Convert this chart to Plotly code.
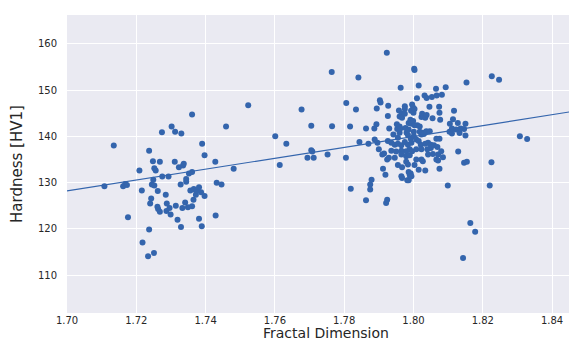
import numpy as np
import plotly.graph_objects as go

fractal_dim = [
    1.7108, 1.7135, 1.7162, 1.7168, 1.7173, 1.7176, 1.7209, 1.7216, 1.7218, 1.7234,
    1.7237, 1.7237, 1.7240, 1.7243, 1.7245, 1.7248, 1.7249, 1.7251, 1.7252, 1.7252,
    1.7256, 1.7261, 1.7262, 1.7263, 1.7268, 1.7268, 1.7274, 1.7275, 1.7285, 1.7287,
    1.7288, 1.7293, 1.7296, 1.7299, 1.7302, 1.7311, 1.7312, 1.7314, 1.7319, 1.7323,
    1.7328, 1.7329, 1.7330, 1.7333, 1.7335, 1.7337, 1.7341, 1.7344, 1.7344, 1.7349,
    1.7352, 1.7356, 1.7361, 1.7361, 1.7361, 1.7365, 1.7366, 1.7372, 1.7373, 1.7381,
    1.7381, 1.7387, 1.7389, 1.7390, 1.7397, 1.7397, 1.7428, 1.7429, 1.7432, 1.7446,
    1.7459, 1.7481, 1.7523,
    1.7601, 1.7614, 1.7633, 1.7677, 1.7694, 1.7705, 1.7705, 1.7708, 1.7712, 1.7752,
    1.7764, 1.7765, 1.7805, 1.7806, 1.7817, 1.7819, 1.7834, 1.7841, 1.7844, 1.7863,
    1.7863, 1.7870, 1.7875, 1.7875, 1.7879, 1.7887, 1.7888, 1.7893, 1.7894, 1.7896,
    1.7900, 1.7903, 1.7905,
    1.7910, 1.7912, 1.7915, 1.7919, 1.7921, 1.7923, 1.7924, 1.7924, 1.7926, 1.7926,
    1.7927, 1.7929, 1.7930, 1.7936, 1.7936, 1.7942, 1.7946, 1.7946, 1.7950, 1.7952,
    1.7953, 1.7955, 1.7955, 1.7955, 1.7958, 1.7960, 1.7960, 1.7960, 1.7962, 1.7963,
    1.7965, 1.7965, 1.7965, 1.7965, 1.7966, 1.7967, 1.7967, 1.7967, 1.7975, 1.7975,
    1.7975, 1.7975, 1.7977, 1.7979, 1.7979, 1.7979, 1.7980, 1.7982, 1.7984, 1.7984,
    1.7984, 1.7986, 1.7986, 1.7986, 1.7986, 1.7989, 1.7989, 1.7989, 1.7991, 1.7991,
    1.7992, 1.7992, 1.7993, 1.7994, 1.7994, 1.7994, 1.7996, 1.7996, 1.7999, 1.7999,
    1.8000, 1.8001, 1.8001, 1.8002, 1.8003, 1.8003, 1.8003, 1.8003, 1.8008, 1.8008,
    1.8008, 1.8010, 1.8011, 1.8015, 1.8015, 1.8015, 1.8018, 1.8018, 1.8021, 1.8023,
    1.8023, 1.8023, 1.8023, 1.8025, 1.8027, 1.8027, 1.8030, 1.8030, 1.8032, 1.8034,
    1.8034, 1.8034, 1.8037, 1.8038, 1.8038, 1.8040, 1.8042, 1.8042, 1.8046, 1.8047,
    1.8050, 1.8050, 1.8053, 1.8055, 1.8056, 1.8059, 1.8065, 1.8066, 1.8066, 1.8067,
    1.8069, 1.8071, 1.8071, 1.8074, 1.8075, 1.8075, 1.8075, 1.8077, 1.8080, 1.8082,
    1.8085, 1.8093, 1.8099,
    1.8104, 1.8105, 1.8111, 1.8111, 1.8114, 1.8117, 1.8123, 1.8128, 1.8129, 1.8133,
    1.8136, 1.8143, 1.8146, 1.8146, 1.8150, 1.8150, 1.8153, 1.8154, 1.8164, 1.8178,
    1.8220, 1.8225, 1.8226, 1.8247, 1.8307, 1.8328,
]

hardness = [
    129.2, 138.0, 129.2, 129.7, 129.5, 122.5, 132.6, 128.3, 117.1, 114.1,
    136.9, 119.9, 125.5, 126.6, 129.6, 134.6, 130.6, 114.8, 133.1, 129.4,
    132.6, 124.8, 128.2, 124.3, 134.5, 123.7, 140.9, 131.3, 127.4, 123.9,
    125.5, 131.3, 124.5, 123.1, 142.1, 134.5, 141.0, 125.0, 122.0, 133.3,
    129.6, 120.4, 140.6, 124.5, 133.7, 134.1, 125.7, 130.8, 130.2, 124.7,
    132.0, 128.3, 144.7, 132.3, 124.9, 126.3, 128.6, 127.4, 128.2, 129.0,
    122.2, 127.9, 120.6, 138.4, 135.9, 127.1, 134.5, 122.9, 130.0, 129.6,
    142.1, 133.0, 146.7,
    140.0, 133.8, 138.4, 145.8, 135.4, 142.3, 137.0, 136.7, 135.4, 136.1,
    153.9, 142.2, 135.4, 147.2, 142.1, 128.7, 145.8, 152.7, 138.8, 141.7,
    126.2, 138.4, 129.6, 128.5, 130.6, 141.7, 139.3, 142.6, 146.0, 138.6,
    137.2, 147.8, 147.3,
    136.1, 133.0, 136.3, 131.7, 125.6, 158.05, 135.0, 126.3, 144.4, 139.0,
    146.6, 135.4, 141.7, 138.6, 136.9, 140.4, 138.2, 135.4, 136.7, 142.6,
    141.6, 139.7, 138.4, 133.8, 145.6, 142.1, 144.3, 140.8, 141.7, 150.5,
    138.1, 136.9, 136.1, 131.4, 144.9, 144.0, 133.3, 131.0, 146.5, 145.9,
    144.9, 138.8, 141.8, 136.8, 135.7, 134.5, 140.8, 130.5, 140.3, 138.2,
    133.9, 142.9, 141.5, 132.3, 130.5, 137.2, 135.9, 131.7, 143.6, 131.3,
    139.5, 132.0, 145.5, 142.7, 138.6, 131.4, 146.9, 136.8, 146.2, 143.3,
    145.1, 141.0, 140.0, 154.6, 154.3, 145.9, 142.4, 133.8, 139.3, 137.2,
    135.0, 148.2, 142.4, 151.0, 139.0, 132.8, 142.1, 141.0, 138.2, 144.2,
    140.4, 137.2, 135.0, 144.9, 140.8, 134.6, 144.4, 140.5, 148.8, 144.0,
    138.4, 132.6, 141.1, 148.3, 144.6, 137.2, 138.6, 136.1, 146.4, 141.1,
    138.2, 137.5, 148.5, 143.9, 136.2, 138.1, 150.3, 139.5, 135.0, 148.8,
    137.7, 136.1, 134.8, 146.4, 145.1, 139.5, 133.0, 143.6, 136.8, 149.0,
    135.5, 150.6, 129.4,
    141.0, 142.7, 141.7, 140.6, 143.7, 145.5, 141.5, 142.9, 136.7, 140.7,
    141.7, 113.7, 141.6, 134.3, 142.7, 140.2, 151.6, 134.5, 121.3, 119.4,
    129.4, 134.4, 153.0, 152.2, 140.0, 139.4,
]

# regression line
fit_slope = 117.7
fit_intercept = -71.89

x_range = [1.70, 1.8495]
y_range = [101.85, 166.2]
x_ticks = [1.70, 1.72, 1.74, 1.76, 1.78, 1.80, 1.82, 1.84]
y_ticks = [110, 120, 130, 140, 150, 160]
x_title = "Fractal Dimension"
y_title = "Hardness [HV1]"

blue = "#3465ad"
text_col = "#262626"

fig = go.Figure()
fig.add_trace(go.Scatter(
    x=fractal_dim, y=hardness, mode="markers",
    marker=dict(size=6, color=blue, line=dict(width=0)),
    showlegend=False, hoverinfo="x+y",
))
line_x = np.linspace(x_range[0], x_range[1], 50)
fig.add_trace(go.Scatter(
    x=line_x, y=fit_intercept + fit_slope * line_x, mode="lines",
    line=dict(color=blue, width=1.2), showlegend=False, hoverinfo="skip",
))

font_fam = "DejaVu Sans, sans-serif"
fig.update_layout(
    width=577, height=342,
    margin=dict(l=59, r=0, t=7, b=37),
    paper_bgcolor="white", plot_bgcolor="#eaeaf2",
    font=dict(family=font_fam, size=10, color=text_col),
)
fig.add_annotation(
    text=x_title, xref="paper", yref="paper", x=0.5, y=0,
    xanchor="center", yanchor="top", yshift=-10, showarrow=False,
    font=dict(size=14, color=text_col),
)
fig.update_xaxes(
    range=x_range, tickvals=x_ticks, tickformat=".2f",
    showgrid=True, gridcolor="white", gridwidth=1, zeroline=False,
    showline=False, ticks="", ticklen=0,
    tickfont=dict(size=10, color=text_col),
)
fig.update_yaxes(
    range=y_range, tickvals=y_ticks,
    showgrid=True, gridcolor="white", gridwidth=1, zeroline=False,
    showline=False, ticks="", ticklen=0, ticklabelstandoff=9,
    tickfont=dict(size=10, color=text_col),
    title=dict(text=y_title, font=dict(size=15, color=text_col), standoff=14),
)

fig.write_html("out.html")
